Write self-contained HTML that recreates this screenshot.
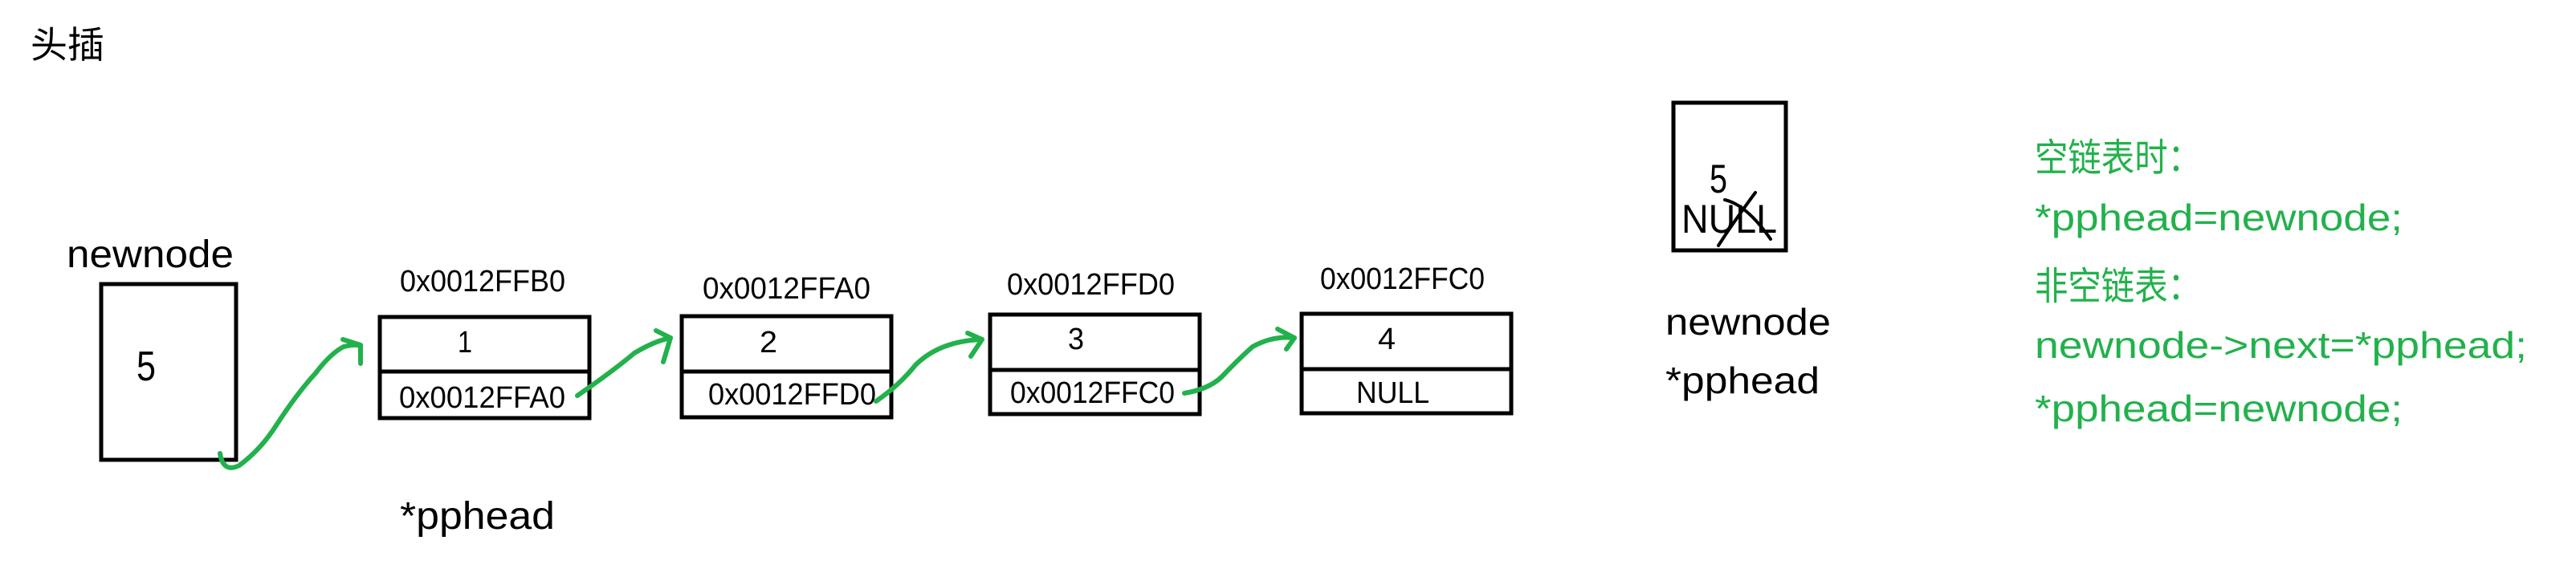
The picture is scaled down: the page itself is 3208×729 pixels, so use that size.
<!DOCTYPE html>
<html><head><meta charset="utf-8"><style>
html,body{margin:0;padding:0;background:#fff;}
svg{display:block;}
</style></head><body>
<svg width="3208" height="729" viewBox="0 0 3208 729" xmlns="http://www.w3.org/2000/svg" font-family="'Liberation Sans','Noto Sans CJK SC',sans-serif">
<rect width="3208" height="729" fill="#fff"/>
<text x="38" y="72" font-size="46" fill="#000" font-family="'Liberation Sans','Noto Sans CJK SC',sans-serif">头插</text>

<!-- newnode -->
<text x="83" y="333" font-size="48" textLength="208" lengthAdjust="spacingAndGlyphs">newnode</text>
<rect x="126" y="354" width="168" height="219" fill="none" stroke="#000" stroke-width="5"/>
<text x="170" y="474" font-size="52" textLength="24" lengthAdjust="spacingAndGlyphs">5</text>

<g fill="none" stroke="#000" stroke-width="5">
<rect x="473" y="395" width="261" height="126"/><line x1="473" y1="463" x2="734" y2="463"/>
<rect x="849" y="394" width="261" height="126"/><line x1="849" y1="463" x2="1110" y2="463"/>
<rect x="1233" y="392" width="261" height="124"/><line x1="1233" y1="461" x2="1494" y2="461"/>
<rect x="1621" y="391" width="261" height="124"/><line x1="1621" y1="460" x2="1882" y2="460"/>
<rect x="2084" y="128" width="140" height="184"/>
</g>

<g font-size="38" fill="#000">
<text x="498" y="363" textLength="206" lengthAdjust="spacingAndGlyphs">0x0012FFB0</text>
<text x="570" y="439" textLength="18" lengthAdjust="spacingAndGlyphs">1</text>
<text x="497" y="508" textLength="207" lengthAdjust="spacingAndGlyphs">0x0012FFA0</text>

<text x="875" y="372" textLength="209" lengthAdjust="spacingAndGlyphs">0x0012FFA0</text>
<text x="946" y="439" textLength="22" lengthAdjust="spacingAndGlyphs">2</text>
<text x="882" y="504" textLength="209" lengthAdjust="spacingAndGlyphs">0x0012FFD0</text>

<text x="1254" y="367" textLength="209" lengthAdjust="spacingAndGlyphs">0x0012FFD0</text>
<text x="1330" y="435" textLength="20" lengthAdjust="spacingAndGlyphs">3</text>
<text x="1258" y="502" textLength="205" lengthAdjust="spacingAndGlyphs">0x0012FFC0</text>

<text x="1644" y="360" textLength="205" lengthAdjust="spacingAndGlyphs">0x0012FFC0</text>
<text x="1716" y="435" textLength="22" lengthAdjust="spacingAndGlyphs">4</text>
<text x="1689" y="502" textLength="91" lengthAdjust="spacingAndGlyphs">NULL</text>
</g>

<text x="498" y="659" font-size="48" textLength="193" lengthAdjust="spacingAndGlyphs">*pphead</text>

<!-- right box -->
<text x="2129" y="240" font-size="50" textLength="22" lengthAdjust="spacingAndGlyphs">5</text>
<text x="2094" y="290" font-size="50" textLength="119" lengthAdjust="spacingAndGlyphs">NULL</text>
<path d="M2186 240 Q2160 275 2140 306" fill="none" stroke="#000" stroke-width="4" stroke-linecap="round"/>
<path d="M2148 249 Q2175 255 2205 298" fill="none" stroke="#000" stroke-width="4" stroke-linecap="round"/>

<text x="2074" y="417" font-size="46" textLength="206" lengthAdjust="spacingAndGlyphs">newnode</text>
<text x="2074" y="490" font-size="46" textLength="192" lengthAdjust="spacingAndGlyphs">*pphead</text>

<g fill="#22b14c" font-size="46">
<text x="2534" y="213" font-size="48" textLength="207" lengthAdjust="spacingAndGlyphs" font-family="'Liberation Sans','Noto Sans CJK SC',sans-serif">空链表时：</text>
<text x="2534" y="287" textLength="458" lengthAdjust="spacingAndGlyphs">*pphead=newnode;</text>
<text x="2534" y="373" font-size="48" textLength="207" lengthAdjust="spacingAndGlyphs" font-family="'Liberation Sans','Noto Sans CJK SC',sans-serif">非空链表：</text>
<text x="2534" y="446" textLength="613" lengthAdjust="spacingAndGlyphs">newnode-&gt;next=*pphead;</text>
<text x="2534" y="525" textLength="458" lengthAdjust="spacingAndGlyphs">*pphead=newnode;</text>
</g>

<!-- green arrows -->
<g fill="none" stroke="#22b14c" stroke-width="6" stroke-linecap="round" stroke-linejoin="round">
<path d="M274 565 Q278 590 298 580 Q325 560 344 530 Q370 490 393 465 Q412 440 428 432 Q445 428 449 432"/>
<path d="M427 423 L449 430 L449 453"/>
<path d="M719 493 Q760 465 790 440 Q815 425 835 421"/>
<path d="M817 412 L835 421 L826 451"/>
<path d="M1091 500 Q1120 480 1140 455 Q1170 425 1223 423"/>
<path d="M1205 415 L1223 423 L1209 444"/>
<path d="M1475 490 Q1505 485 1521 470 Q1545 445 1560 432 Q1585 418 1612 421"/>
<path d="M1591 410 L1612 421 L1602 435"/>
</g>
</svg>
</body></html>
